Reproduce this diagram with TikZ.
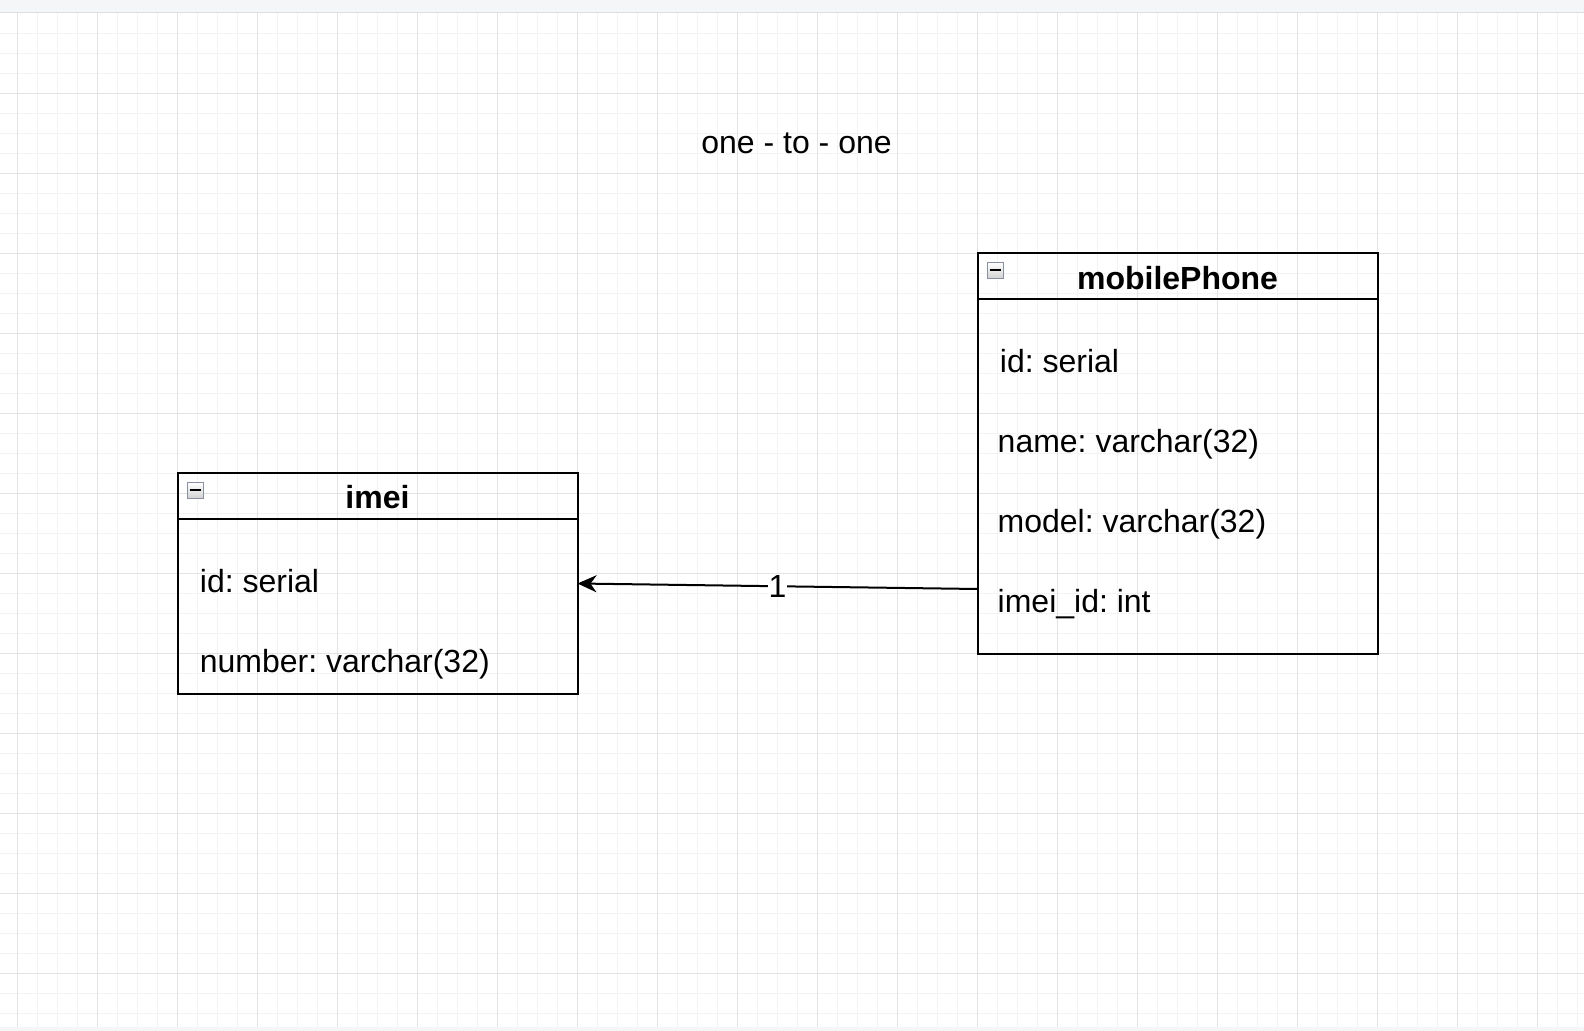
\documentclass[tikz,border=0pt]{standalone}
\usepackage{fontspec}
\setmainfont{Liberation Sans}
\usetikzlibrary{arrows.meta}
\definecolor{minorgrid}{HTML}{F3F3F3}
\definecolor{majorgrid}{HTML}{E3E3E3}
\definecolor{barbg}{HTML}{F5F6F8}
\definecolor{barline}{HTML}{DEDEDE}
\definecolor{iconborder}{HTML}{8A90A2}
\frenchspacing
\begin{document}
\begin{tikzpicture}[x=0.5pt,y=-0.5pt,
  tablebox/.style={draw=black, line width=1pt, inner sep=0pt, outer sep=0pt},
  headtext/.style={anchor=base, inner sep=0pt, font=\bfseries\fontsize{16}{19}\selectfont},
  rowtext/.style={anchor=base west, inner sep=0pt, font=\fontsize{16}{19}\selectfont},
  icon/.style={draw=iconborder, line width=0.5pt, minimum size=8pt, inner sep=0pt,
    top color=white, bottom color=black!18,
    path picture={\draw[black, line width=1pt]
      ([xshift=-2.75pt]path picture bounding box.center) --
      ([xshift=2.75pt]path picture bounding box.center);}},
  conn/.style={draw=black, line width=1pt, -{Stealth[length=9.5pt,width=8.5pt,inset=3pt]}},
  lbl/.style={fill=white, inner sep=0.4pt, font=\fontsize{16}{19}\selectfont}
]
\useasboundingbox (0,0) rectangle (1584,1031);
\fill[white] (0,0) rectangle (1584,1031);
% grid
\foreach \x in {17.5,37.5,...,1577.5} \draw[minorgrid, line width=0.6pt] (\x,13) -- (\x,1027);
\foreach \y in {33.5,53.5,...,1013.5} \draw[minorgrid, line width=0.6pt] (0,\y) -- (1584,\y);
\foreach \x in {17.5,97.5,...,1537.5} \draw[majorgrid, line width=0.8pt] (\x,13) -- (\x,1027);
\foreach \y in {93.5,173.5,...,973.5} \draw[majorgrid, line width=0.8pt] (0,\y) -- (1584,\y);
% top and bottom bars
\fill[barbg] (0,0) rectangle (1584,12);
\draw[barline, line width=0.8pt] (0,12.5) -- (1584,12.5);
\fill[barbg] (0,1027) rectangle (1584,1031);

% title
\node[anchor=base, inner sep=0pt, font=\fontsize{16}{19}\selectfont] (title) at (796.5,153.3) {one - to - one};

% imei table
\node[tablebox, minimum width=200pt, minimum height=110pt] (imei) at (377.5,583.5) {};
\draw[line width=1pt] ([yshift=-23pt]imei.north west) -- ([yshift=-23pt]imei.north east);
\node[icon] (imeiicon) at (195,490.5) {};
\node[headtext] (imeihead) at (377.5,509) {imei};
\node[rowtext] (imeiid) at (199.5,592.7) {id: serial};
\node[rowtext] (imeinum) at (199.5,672.7) {number: varchar(32)};

% mobilePhone table
\node[tablebox, minimum width=200pt, minimum height=200pt] (mp) at (1177.5,453.5) {};
\draw[line width=1pt] ([yshift=-23pt]mp.north west) -- ([yshift=-23pt]mp.north east);
\node[icon] (mpicon) at (995,270.5) {};
\node[headtext] (mphead) at (1177.5,289.5) {mobilePhone};
\node[rowtext] (mpid) at (999.5,372.7) {id: serial};
\node[rowtext] (mpname) at (997.3,452.5) {name: varchar(32)};
\node[rowtext] (mpmodel) at (997.3,532.7) {model: varchar(32)};
\node[rowtext] (mpimei) at (997.3,612.7) {imei\_id: int};

% connector
\draw[conn] ([yshift=-67.75pt]mp.west) -- node[lbl] (one) {1} (imei.east);
\end{tikzpicture}
\end{document}
